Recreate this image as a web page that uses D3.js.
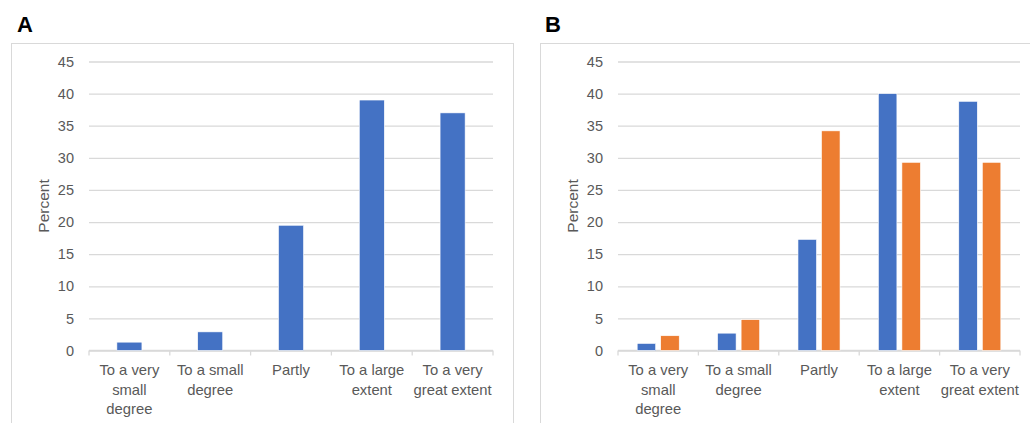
<!DOCTYPE html>
<html><head><meta charset="utf-8">
<script src="https://cdn.jsdelivr.net/npm/d3@7"></script>
<style>
html,body{margin:0;padding:0;background:#fff;}
svg text{font-family:"Liberation Sans",Arial,sans-serif;}
</style></head>
<body><svg id="c" width="1030" height="423"></svg>
<script>
const categories = [["To a very","small","degree"],["To a small","degree"],["Partly"],["To a large","extent"],["To a very","great extent"]];
const catKeys = ["very small","small","partly","large","very great"];
const valuesA = [1.3, 2.9, 19.5, 39.0, 37.0];
const valuesB1 = [1.1, 2.7, 17.3, 40.0, 38.8];
const valuesB2 = [2.3, 4.8, 34.2, 29.3, 29.3];
const yTicks = [0,5,10,15,20,25,30,35,40,45];
const colors = ["#4472C4", "#ED7D31"];

const svg = d3.select("#c");
const textColor = "#595959", gridColor = "#d9d9d9";

function panel(opts){
  const g = svg.append("g");
  g.append("rect").attr("x",opts.fx+0.5).attr("y",43.5).attr("width",opts.fw).attr("height",420)
    .attr("fill","none").attr("stroke",gridColor).attr("stroke-width",1);
  g.append("text").attr("x",opts.lx).attr("y",32).text(opts.label)
    .attr("font-size",22).attr("font-weight","bold").attr("fill","#000");
  const y = d3.scaleLinear().domain([0,45]).range([350.5,61.5]);
  const x0 = d3.scaleBand().domain(catKeys).range([opts.x0,opts.x1]).paddingInner(0).paddingOuter(0);
  const yAxis = d3.axisLeft(y).tickValues(yTicks).tickSize(-(opts.x1-opts.x0)).tickPadding(15);
  const ya = g.append("g").attr("transform",`translate(${opts.x0},0)`).call(yAxis);
  ya.select(".domain").remove();
  ya.selectAll(".tick line").attr("stroke",gridColor).attr("stroke-width",1.3);
  ya.selectAll(".tick text").attr("fill",textColor).attr("font-size",14.5).attr("font-family","Liberation Sans, Arial, sans-serif");
  const bounds = catKeys.map(k=>x0(k)).concat([opts.x1]);
  g.append("line").attr("x1",opts.x0).attr("x2",opts.x1).attr("y1",y(0)).attr("y2",y(0)).attr("stroke",gridColor).attr("stroke-width",1.3);
  g.selectAll(".xt").data(bounds).join("line").attr("x1",d=>d).attr("x2",d=>d)
    .attr("y1",y(0)).attr("y2",y(0)+5).attr("stroke",gridColor).attr("stroke-width",1.3);
  catKeys.forEach((k,i)=>{
    const t = g.append("text").attr("text-anchor","middle").attr("fill",textColor).attr("font-size",14.8)
      .attr("x",x0(k)+x0.bandwidth()/2).attr("y",375);
    categories[i].forEach((line,j)=>t.append("tspan").attr("x",x0(k)+x0.bandwidth()/2).attr("dy",j?19.5:0).text(line));
  });
  g.append("text").attr("transform",`translate(${opts.x0-40},${(y(0)+y(45))/2}) rotate(-90)`)
    .attr("text-anchor","middle").attr("fill",textColor).attr("font-size",15.5).text("Percent");
  const series = opts.series;
  const groupW = x0.bandwidth()*opts.groupFrac;
  const x1 = d3.scaleBand().domain(d3.range(series.length)).range([0,groupW]).paddingInner(opts.inner).paddingOuter(0);
  series.forEach((vals,si)=>{
    g.selectAll(".b"+si).data(vals).join("rect")
      .attr("x",(d,i)=>x0(catKeys[i])+(x0.bandwidth()-groupW)/2+x1(si))
      .attr("y",d=>y(d)).attr("width",x1.bandwidth()).attr("height",d=>y(0)-y(d))
      .attr("fill",colors[si]).attr("stroke","#fff").attr("stroke-width",0.6);
  });
}
panel({fx:11, fw:502, lx:17, label:"A", x0:89, x1:493, series:[valuesA], groupFrac:0.31, inner:0});
panel({fx:540, fw:520, lx:545, label:"B", x0:618, x1:1020, series:[valuesB1,valuesB2], groupFrac:0.523, inner:0.213});
</script></body></html>
